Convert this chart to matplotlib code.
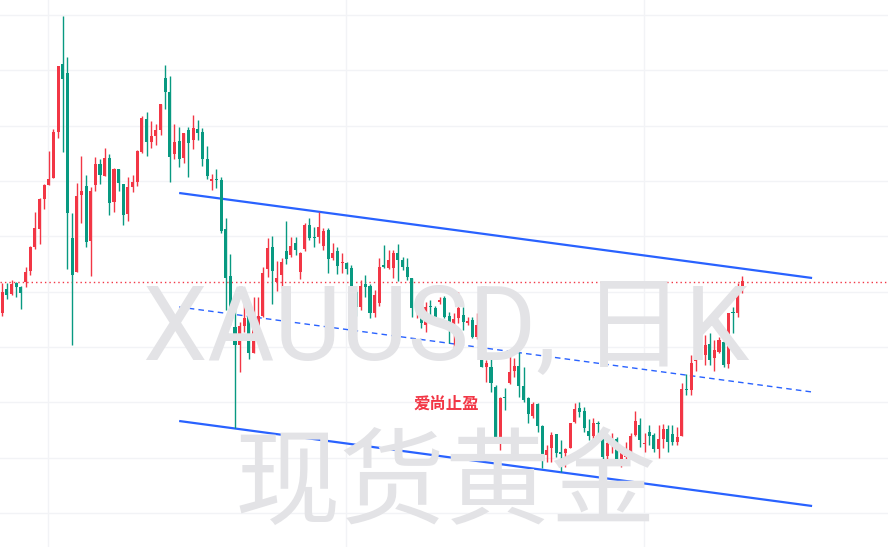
import matplotlib
matplotlib.use("Agg")
import matplotlib.pyplot as plt
import numpy as np

# Candle data in chart units (inverted price scale)
opens = [313,289,294,283,287,282,271,247,229,199,185,178,132,64,73,238,272,195,186,241,
         185,164,176,158,202,169,184,214,187,182,152,119,142,136,130,78,92,154,141,158,
         130,140,129,132,159,181,179,180,229,276,327,345,326,316,353,327,316,269,247,282,
         275,251,255,243,272,249,225,237,237,246,230,258,251,263,263,268,292,307,284,286,
         313,303,265,268,268,253,260,267,278,308,300,325,306,308,302,298,316,329,318,315,
         323,320,337,325,367,367,387,438,397,383,371,366,386,398,416,404,426,455,448,434,
         452,453,448,422,408,411,431,436,423,430,456,443,439,463,457,455,435,425,444,432,
         435,449,439,429,434,442,436,389,390,361,350,355,344,358,352,342,364,312,313,287]
highs = [283,283,280,282,286,267,246,212,198,184,151,129,66,16,57,213,183,156,175,187,
         157,159,148,154,168,169,184,177,175,150,116,112,121,124,104,65,76,124,127,133,
         127,115,120,128,146,174,169,177,218,254,309,322,291,307,297,297,267,238,236,261,
         258,221,237,237,252,223,218,227,212,228,228,243,247,253,262,265,290,280,275,284,
         290,258,245,250,250,244,257,258,278,296,295,302,300,306,297,296,312,313,292,307,
         317,317,313,323,360,357,385,397,388,355,358,352,367,397,402,403,425,445,432,434,
         440,448,423,403,402,407,419,418,421,428,440,433,437,450,442,433,411,418,433,425,
         433,425,424,425,425,427,383,374,355,345,337,335,333,340,337,337,313,307,283,276]
lows = [316,299,295,297,309,287,275,249,244,209,185,178,138,152,269,345,272,223,247,276,
        191,184,176,215,212,191,225,221,192,186,153,156,148,145,135,109,182,159,167,163,
        177,149,140,166,179,190,188,233,310,325,428,372,332,359,353,340,317,277,304,291,
        288,264,257,255,279,251,240,247,243,250,273,260,274,273,274,303,316,310,297,318,
        317,306,268,269,278,281,270,280,317,318,328,332,320,322,304,318,343,355,323,330,
        325,338,339,367,382,392,438,450,410,384,377,397,402,423,418,432,468,462,462,457,
        472,467,448,423,417,432,440,442,435,462,462,453,464,467,462,455,436,447,452,445,
        452,458,448,452,445,445,436,395,395,371,358,365,365,371,353,367,368,333,317,293]
closes = [292,295,284,287,293,272,247,228,199,185,179,132,66,79,213,275,196,191,242,191,
          164,175,158,203,169,183,215,187,182,151,118,142,136,130,104,92,157,142,159,133,
          143,128,133,159,176,179,180,231,278,320,345,326,318,353,317,316,273,248,271,278,
          262,259,246,250,253,225,238,238,227,231,259,253,266,262,269,292,307,286,287,313,
          295,267,267,260,253,260,267,277,308,301,323,307,307,317,300,317,330,319,308,322,
          321,337,325,367,363,383,438,398,398,372,366,386,400,414,404,426,457,450,435,453,
          454,449,423,409,412,428,436,423,424,457,443,441,464,453,455,436,421,440,443,436,
          449,439,429,442,442,437,389,390,363,350,356,345,360,350,340,365,313,313,291,281]

last_price = 281.5                     # dotted current-price line
channel_x = [38, 174]                  # channel start / end (bar index)
channel_upper = [193, 278]
channel_mid = [307, 392]
channel_lower = [421, 506]
grid_y = [15, 70.3, 125.6, 181, 236.3, 291.6, 347, 402.3, 457.6, 513]
grid_x = [9.75, 73.8, 137.8]

UP = "#F23645"
DOWN = "#089981"
BLUE = "#2962FF"

W, H = 888, 547
fig = plt.figure(figsize=(W / 100, H / 100), dpi=100)
ax = fig.add_axes([0, 0, 1, 1])
step = 4.654
x0 = 2.3
ax.set_xlim(-x0 / step, (W - x0) / step)
ax.set_ylim(H, 0)
for s in ax.spines.values():
    s.set_visible(False)
ax.set_xticks(grid_x)
ax.set_yticks(grid_y)
ax.tick_params(length=0, labelbottom=False, labelleft=False)
ax.grid(True, color="#F2F3F6", linewidth=1.0, zorder=0)
ax.set_axisbelow(True)

# watermark
fig.text(446 / W, 1 - 359 / H, "XAUUSD, 日K", ha="center", va="baseline",
         fontsize=74, color="#E3E3E6", family=["Roboto", "Noto Sans CJK SC"], zorder=1)
fig.text(445 / W, 1 - 486 / H, "现货黄金", ha="center", va="center",
         fontsize=76, color="#E3E3E6", family=["Noto Sans CJK SC"], zorder=1)

idx = np.arange(len(opens))
o = np.array(opens, float)
h = np.array(highs, float)
l = np.array(lows, float)
c = np.array(closes, float)
up = c <= o
cols = np.where(up, UP, DOWN)

ax.vlines(idx, h, l, colors=cols, linewidth=1.0, zorder=3)
body_bottom = np.minimum(o, c)
body_h = np.maximum(np.abs(o - c), 1.2)
ax.bar(idx, body_h, bottom=body_bottom, width=0.66, color=cols, linewidth=0, zorder=4)

ax.axhline(last_price, color=UP, linewidth=1.0, linestyle=(0, (1, 2.2)), zorder=2)

ax.plot(channel_x, channel_upper, color=BLUE, linewidth=1.6, zorder=2, solid_capstyle="butt")
ax.plot(channel_x, channel_lower, color=BLUE, linewidth=1.6, zorder=2, solid_capstyle="butt")
ax.plot(channel_x, channel_mid, color=BLUE, linewidth=1.0, linestyle=(0, (4, 3)), zorder=2)

fig.text(446.5 / W, 1 - 404 / H, "爱尚止盈", ha="center", va="center", fontsize=11.8,
         fontweight="bold", color=UP, family=["Noto Sans CJK SC"], zorder=5)

fig.savefig("out.png", dpi=100)
